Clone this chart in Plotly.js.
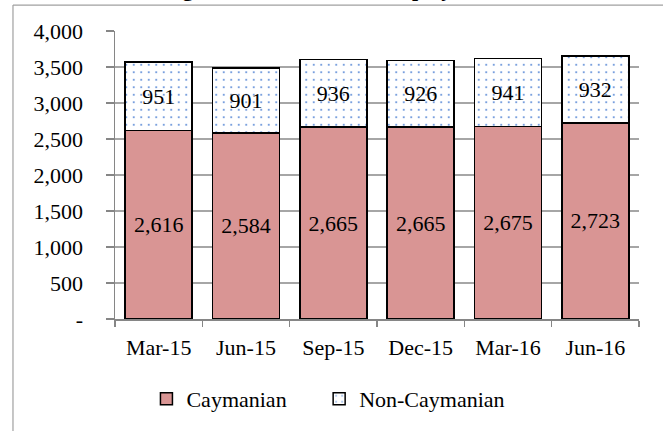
<!DOCTYPE html>
<html>
<head>
<meta charset="utf-8">
<script src="https://cdn.plot.ly/plotly-3.0.1.min.js"></script>
<style>
html,body{margin:0;padding:0;background:#fff;}
#chart{width:663px;height:431px;}
</style>
</head>
<body>
<div id="chart"></div>
<script>
const categories = ['Mar-15', 'Jun-15', 'Sep-15', 'Dec-15', 'Mar-16', 'Jun-16'];
const caymanian = [2616, 2584, 2665, 2665, 2675, 2723];
const nonCaymanian = [951, 901, 936, 926, 941, 932];
const yTickVals = [0, 500, 1000, 1500, 2000, 2500, 3000, 3500, 4000];
const yTickText = ['-', '500', '1,000', '1,500', '2,000', '2,500', '3,000', '3,500', '4,000'];
const seriesNames = ['Caymanian', 'Non-Caymanian'];
const titleText = 'Figure 1: Civil Service Employment';

const FONT = 'Liberation Serif, Times New Roman, serif';
const PAD = '\u00a0'.repeat(5);

const traces = [
  {
    type: 'bar', name: seriesNames[0] + PAD, x: categories, y: caymanian,
    marker: {color: '#d99594', line: {color: '#000000', width: 1.5}},
    texttemplate: '%{y:,}', textposition: 'inside', insidetextanchor: 'middle',
    textfont: {family: FONT, size: 22, color: '#000000'},
    constraintext: 'none', hoverinfo: 'skip'
  },
  {
    type: 'bar', name: seriesNames[1], x: categories, y: nonCaymanian,
    marker: {color: '#ffffff', line: {color: '#000000', width: 1.5},
      pattern: {shape: '.', fgcolor: '#5b8bd6', bgcolor: '#ffffff', size: 7.5, solidity: 0.06, fillmode: 'replace'}},
    texttemplate: '%{y:,}', textposition: 'inside', insidetextanchor: 'middle',
    textfont: {family: FONT, size: 22, color: '#000000'},
    constraintext: 'none', hoverinfo: 'skip'
  }
];

const layout = {
  width: 663, height: 431,
  margin: {l: 115, r: 24, t: 31, b: 111, pad: 0},
  paper_bgcolor: '#ffffff', plot_bgcolor: '#ffffff',
  font: {family: FONT, size: 22, color: '#000000'},
  barmode: 'stack', bargap: 0.233,
  showlegend: true,
  legend: {orientation: 'h', x: 0.06, xanchor: 'left', y: -0.273, yanchor: 'middle',
    font: {family: FONT, size: 22, color: '#000000'},
    traceorder: 'normal', itemclick: false, itemdoubleclick: false},
  xaxis: {type: 'category', showline: true, linecolor: '#868686', linewidth: 1.5,
    ticks: 'outside', tickson: 'boundaries', ticklen: 6, tickcolor: '#868686', tickwidth: 1.5,
    showgrid: false, ticklabelstandoff: 8, fixedrange: true,
    tickfont: {family: FONT, size: 22, color: '#000000'}},
  yaxis: {range: [0, 4000], tickvals: yTickVals, ticktext: yTickText, showline: true,
    linecolor: '#868686', linewidth: 1.5, ticks: 'outside', ticklen: 8, tickcolor: '#868686', tickwidth: 1.5,
    showgrid: true, gridcolor: '#a6a6a6', gridwidth: 1.3, zeroline: false, ticklabelstandoff: 18,
    fixedrange: true, tickfont: {family: FONT, size: 22, color: '#000000'}},
  annotations: [
    {text: '<b>' + titleText + '</b>', xref: 'paper', yref: 'paper', x: 0.414, y: 1.147,
      xanchor: 'center', yanchor: 'middle', showarrow: false,
      font: {family: FONT, size: 22, color: '#000000'}}
  ],
  shapes: [
    {type: 'line', xref: 'paper', yref: 'paper', x0: -0.1947, x1: 1.2, y0: 1.09, y1: 1.09,
      line: {color: '#a0a0a0', width: 1.2}},
    {type: 'line', xref: 'paper', yref: 'paper', x0: -0.1947, x1: -0.1947, y0: -0.5, y1: 1.09,
      line: {color: '#a0a0a0', width: 1.2}}
  ]
};

Plotly.newPlot('chart', traces, layout, {displayModeBar: false, staticPlot: true});
</script>
</body>
</html>
